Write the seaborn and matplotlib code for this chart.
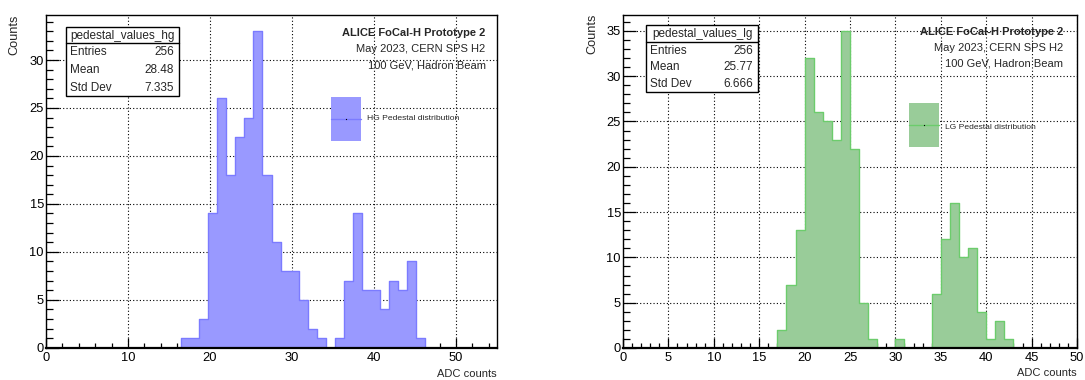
import numpy as np
import pandas as pd
import matplotlib
matplotlib.use("Agg")
import matplotlib.pyplot as plt
import seaborn as sns
from matplotlib.patches import Rectangle
from matplotlib.lines import Line2D
from matplotlib.ticker import MultipleLocator

# ---------------- data ----------------
hg_range = (0.0, 55.0)
hg_nbins = 50
hg_first_bin = 15
hg_counts = [1, 1, 3, 14, 26, 18, 22, 24, 33, 18, 11, 8, 8, 5, 2, 1, 0,
             1, 7, 14, 6, 6, 4, 7, 6, 9, 1]

lg_range = (0.0, 50.0)
lg_nbins = 50
lg_first_bin = 17
lg_counts = [2, 7, 13, 32, 26, 25, 23, 35, 22, 5, 1, 0, 0, 1, 0, 0, 0,
             6, 12, 16, 10, 11, 4, 1, 3, 1]

hg_stats_title = "pedestal_values_hg"
lg_stats_title = "pedestal_values_lg"
stat_names = ["Entries", "Mean", "Std Dev"]
hg_stat_values = ["256", "28.48", "7.335"]
lg_stat_values = ["256", "25.77", "6.666"]
header_lines = ["ALICE FoCal-H Prototype 2", "May 2023, CERN SPS H2", "100 GeV, Hadron Beam"]
hg_legend = "HG Pedestal distribution"
lg_legend = "LG Pedestal distribution"
x_title = "ADC counts"
y_title = "Counts"

# ---------------- style ----------------
sns.set_theme(style="white")
plt.rcParams['font.family'] = ['Liberation Sans', 'DejaVu Sans']

W, H = 1085, 380
fig = plt.figure(figsize=(W / 100, H / 100), dpi=100)
fig.patch.set_facecolor("white")


def fx(x):
    return x / W


def fy(y):
    return 1 - y / H


def make_df(rng, nbins, first, counts):
    edges = np.linspace(rng[0], rng[1], nbins + 1)
    full = np.zeros(nbins)
    full[first:first + len(counts)] = counts
    centers = 0.5 * (edges[:-1] + edges[1:])
    return pd.DataFrame({"adc": centers, "n": full})


panels = [
    dict(box=(46, 15.4, 497, 347.8), rng=hg_range, nb=hg_nbins, first=hg_first_bin,
         counts=hg_counts, face="#9999ff", edge="#7b7bff", xmaj=10, xmin=2,
         stats=(66, 27.4, 179, 95.9, 42.8), st_title=hg_stats_title, st_vals=hg_stat_values,
         head_x=485.5, head_y=[33, 49, 65],
         leg=(331, 97, 361, 141), leg_text=hg_legend, leg_tx=367, leg_ty=119,
         ylab_x=14, xlab_y=374),
    dict(box=(623, 15, 1077, 348), rng=lg_range, nb=lg_nbins, first=lg_first_bin,
         counts=lg_counts, face="#99cc99", edge="#6ccc6c", xmaj=5, xmin=1,
         stats=(646, 25, 758, 92, 42), st_title=lg_stats_title, st_vals=lg_stat_values,
         head_x=1063, head_y=[32, 48, 64],
         leg=(909, 103, 939, 147), leg_text=lg_legend, leg_tx=945, leg_ty=127,
         ylab_x=592, xlab_y=373),
]

for p in panels:
    l, t, r, b = p["box"]
    ax = fig.add_axes([fx(l), fy(b), (r - l) / W, (b - t) / H])
    df = make_df(p["rng"], p["nb"], p["first"], p["counts"])
    sns.histplot(data=df, x="adc", weights="n", bins=p["nb"], binrange=p["rng"],
                 element="step", fill=True, color=p["face"], alpha=1.0,
                 edgecolor=p["edge"], linewidth=1.0, ax=ax)
    ax.set_xlim(*p["rng"])
    ax.set_ylim(0, 1.05 * max(p["counts"]))
    ax.set_xlabel("")
    ax.set_ylabel("")
    ax.xaxis.set_major_locator(MultipleLocator(p["xmaj"]))
    ax.xaxis.set_minor_locator(MultipleLocator(p["xmin"]))
    ax.yaxis.set_major_locator(MultipleLocator(5))
    ax.yaxis.set_minor_locator(MultipleLocator(1))
    ax.set_axisbelow(True)
    ax.grid(True, which="major", color="black", linestyle=(0, (1, 2)), linewidth=0.8)
    ax.tick_params(axis="x", which="major", direction="in", length=7, width=0.9,
                   labelsize=9.3, pad=3, colors="black", bottom=True, top=False)
    ax.tick_params(axis="x", which="minor", direction="in", length=3.6, width=0.9,
                   bottom=True, top=False, colors="black")
    ax.tick_params(axis="y", which="major", direction="in", length=9.5, width=0.9,
                   labelsize=9.3, pad=1.5, colors="black", left=True, right=False)
    ax.tick_params(axis="y", which="minor", direction="in", length=4.9, width=0.9,
                   left=True, right=False, colors="black")
    for s in ax.spines.values():
        s.set_color("black")
        s.set_linewidth(1.0)
    ax.spines["bottom"].set_linewidth(1.6)

    # stats box
    sl, st, sr, sb, sd = p["stats"]
    fig.add_artist(Rectangle((fx(sl), fy(sb)), (sr - sl) / W, (sb - st) / H,
                             transform=fig.transFigure, facecolor="white",
                             edgecolor="black", linewidth=1.0, zorder=5))
    fig.add_artist(Line2D([fx(sl), fx(sr)], [fy(sd), fy(sd)], transform=fig.transFigure,
                          color="black", linewidth=1.0, zorder=6))
    fig.text(fx((sl + sr) / 2), fy((st + sd) / 2 + 0.5), p["st_title"], ha="center",
             va="center", fontsize=8.5, zorder=7)
    row_h = (sb - sd) / 3
    for i, (nm, vl) in enumerate(zip(stat_names, p["st_vals"])):
        yc = sd + row_h * (i + 0.5) + 0.5
        fig.text(fx(sl + 4), fy(yc), nm, ha="left", va="center", fontsize=8.5, zorder=7)
        fig.text(fx(sr - 5), fy(yc), vl, ha="right", va="center", fontsize=8.5, zorder=7)

    # header text
    for i, (txt, yy) in enumerate(zip(header_lines, p["head_y"])):
        fig.text(fx(p["head_x"]), fy(yy), txt, ha="right", va="center",
                 fontsize=8.0, fontweight="bold" if i == 0 else "normal", zorder=7)

    # legend
    ll, lt, lr, lb = p["leg"]
    fig.add_artist(Rectangle((fx(ll), fy(lb)), (lr - ll) / W, (lb - lt) / H,
                             transform=fig.transFigure, facecolor=p["face"],
                             edgecolor="none", zorder=5))
    ym = (lt + lb) / 2
    fig.add_artist(Line2D([fx(ll), fx(lr)], [fy(ym), fy(ym)], transform=fig.transFigure,
                          color=p["edge"], linewidth=1.0, zorder=6))
    fig.add_artist(Line2D([fx((ll + lr) / 2)], [fy(ym)], transform=fig.transFigure,
                          marker="s", markersize=0.8, markeredgewidth=0,
                          color="black", zorder=7))
    fig.text(fx(p["leg_tx"]), fy(p["leg_ty"]), p["leg_text"], ha="left", va="center",
             fontsize=6.1, zorder=7)

    # axis titles
    fig.text(fx(p["ylab_x"]), fy(t - 1), y_title, rotation=90, ha="center", va="top",
             fontsize=9.2)
    fig.text(fx(r), fy(p["xlab_y"]), x_title, ha="right", va="center", fontsize=8.0)

fig.savefig("out.png", dpi=100, facecolor="white")
